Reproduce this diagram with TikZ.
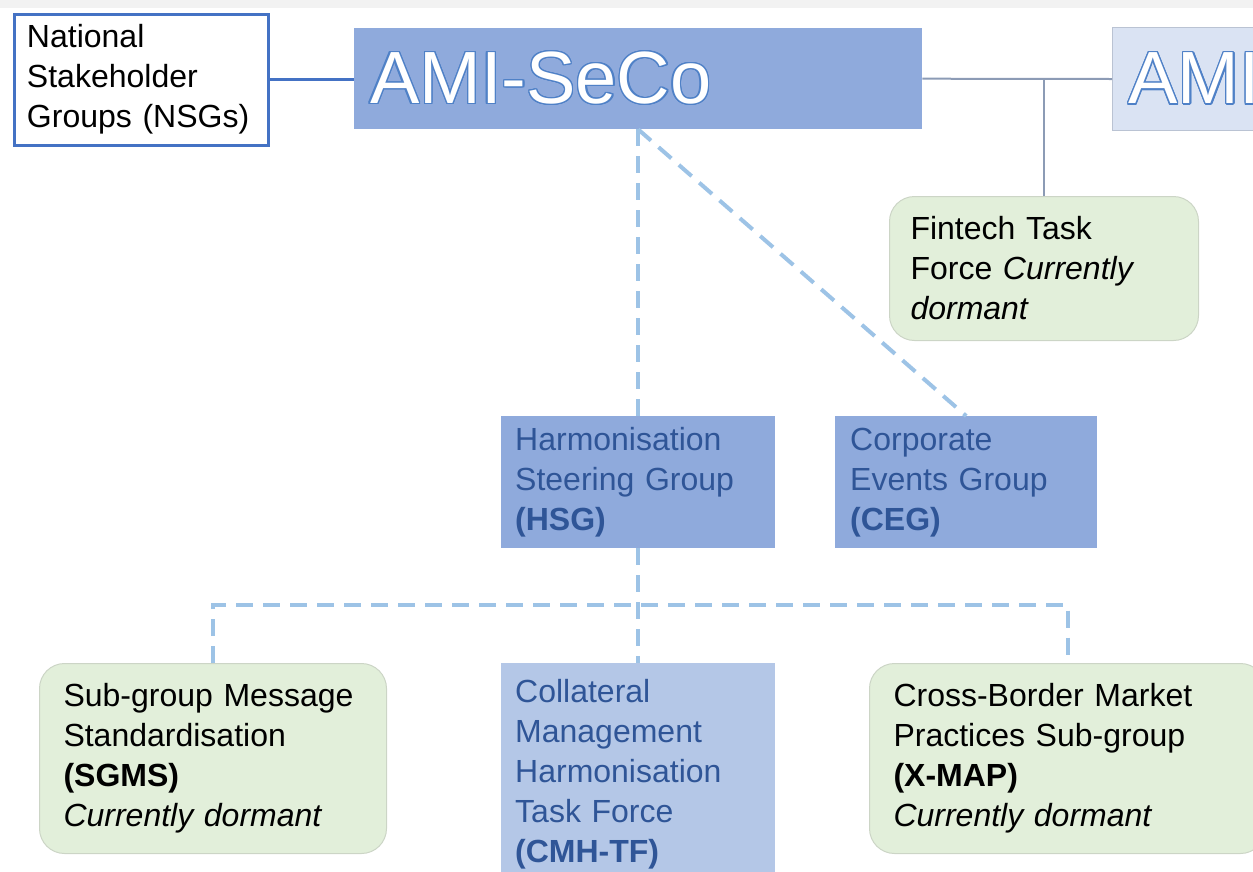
\documentclass[tikz,border=0pt]{standalone}
\usepackage{fontspec}
\setmainfont{Liberation Sans}
\usepackage{contour}
\contourlength{1.4pt}
\definecolor{nsgblue}{HTML}{4472C4}
\definecolor{secofill}{HTML}{8FAADC}
\definecolor{secoline}{HTML}{4F81C7}
\definecolor{amilight}{HTML}{DAE3F3}
\definecolor{grouptext}{HTML}{2F5597}
\definecolor{cmhfill}{HTML}{B4C7E7}
\definecolor{dormantfill}{HTML}{E2EFDA}
\definecolor{dormantline}{HTML}{CCD5C6}
\definecolor{dashblue}{HTML}{9DC3E6}
\definecolor{linegrey}{HTML}{8C9BB5}
\definecolor{topgrey}{HTML}{F2F2F2}
\begin{document}
\begin{tikzpicture}[x=1pt, y=-1pt,
    every node/.style={font=\fontsize{32}{40}\selectfont, align=left,
      anchor=north west, inner ysep=0pt},
    nsgbox/.style={draw=nsgblue, line width=3pt, fill=white, inner xsep=13pt},
    secobox/.style={fill=secofill, text=white, inner xsep=16pt,
      font=\fontsize{74}{80}\selectfont},
    groupbox/.style={fill=secofill, text=grouptext},
    taskbox/.style={fill=cmhfill, text=grouptext, inner xsep=14pt},
    dormantbox/.style={fill=dormantfill, draw=dormantline, line width=1pt,
      rounded corners=25pt},
    dashlink/.style={draw=dashblue, line width=4pt, dash pattern=on 17pt off 10pt},
    greylink/.style={draw=linegrey, line width=2pt},
    nsglink/.style={draw=nsgblue, line width=3pt}]
  \useasboundingbox (0,0) rectangle (1253,871);
  \clip (0,0) rectangle (1253,871);
  \fill[topgrey] (0,0) rectangle (1253,8);

  \node[nsgbox, minimum width=254pt, minimum height=131pt, text width=228pt]
    (nsg) at (12.5,12.5) {National\\Stakeholder\\Groups (NSGs)};
  \node[secobox, minimum width=568pt, minimum height=101pt, text width=536pt]
    (seco) at (354,28) {\contour{secoline}{AMI-SeCo}};
  \node[secobox, fill=amilight, draw=linegrey!60, line width=1pt,
    minimum width=220pt, minimum height=103pt, text width=188pt]
    (amiright) at (1112,27) {\contour{secoline}{AMI}};
  \node[dormantbox, inner xsep=21pt, minimum width=309pt, minimum height=144pt,
    text width=267pt] (fintech) at (889,196)
    {Fintech Task\\Force \textit{Currently}\\\textit{dormant}};

  \node[groupbox, inner xsep=14pt, minimum width=274pt, minimum height=132pt,
    text width=246pt] (hsg) at (501,416)
    {Harmonisation\\Steering Group\\\textbf{(HSG)}};
  \node[groupbox, inner xsep=15pt, minimum width=262pt, minimum height=132pt,
    text width=232pt] (ceg) at (835,416)
    {Corporate\\Events Group\\\textbf{(CEG)}};

  \node[dormantbox, inner xsep=24pt, minimum width=347pt, minimum height=190pt,
    text width=299pt] (sgms) at (39,663)
    {Sub-group Message\\Standardisation\\\textbf{(SGMS)}\\\textit{Currently dormant}};
  \node[taskbox, minimum width=274pt, minimum height=222pt, text width=246pt]
    (cmh) at (501,663)
    {Collateral\\Management\\Harmonisation\\Task Force\\\textbf{(CMH-TF)}};
  \node[dormantbox, inner xsep=24pt, minimum width=396pt, minimum height=190pt,
    text width=348pt] (xmap) at (869,663)
    {Cross-Border Market\\Practices Sub-group\\\textbf{(X-MAP)}\\\textit{Currently dormant}};

  \draw[nsglink] (nsg.east) -- (nsg.east -| seco.west);
  \draw[greylink] (seco.east) -- (amiright.west);
  \draw[greylink] (fintech.north) -- (fintech.north |- seco.east);
  \draw[dashlink] (seco.south -| hsg.north) -- (hsg.north);
  \draw[dashlink] (seco.south -| hsg.north) -- (ceg.north);
  \draw[dashlink] (hsg.south) -- (cmh.north);
  \draw[dashlink] (sgms.north) -- ++(0,-58) -| (xmap.north);
\end{tikzpicture}
\end{document}
